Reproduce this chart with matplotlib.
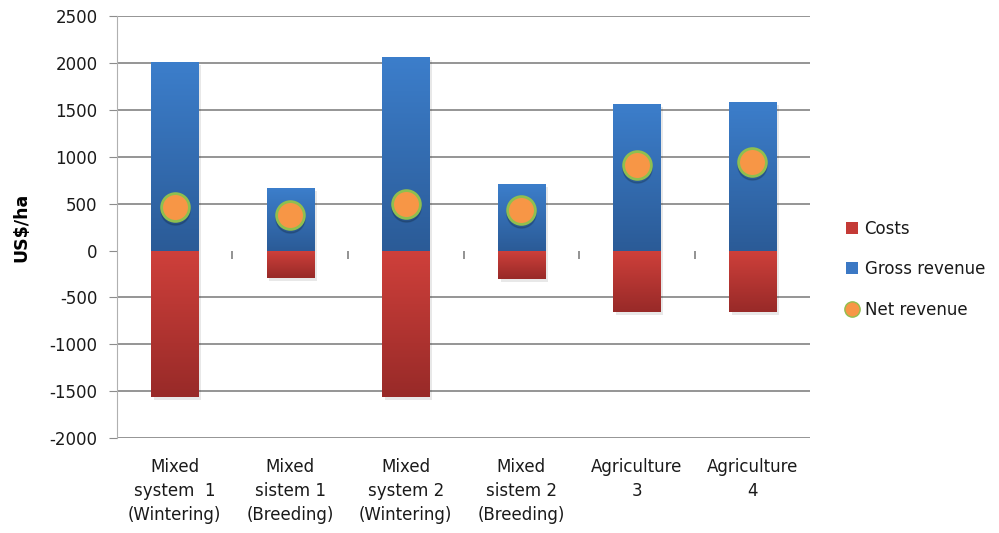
import matplotlib
matplotlib.use("Agg")
import matplotlib.pyplot as plt
import numpy as np
from matplotlib.colors import LinearSegmentedColormap
from matplotlib.patches import Patch
from matplotlib.lines import Line2D
from matplotlib.transforms import ScaledTranslation

plt.rcParams['font.family'] = ['DejaVu Sans']
plt.rcParams['axes.unicode_minus'] = False

# Data (US$/ha)
categories = ["Mixed\nsystem  1\n(Wintering)", "Mixed\nsistem 1\n(Breeding)",
              "Mixed\nsystem 2\n(Wintering)", "Mixed\nsistem 2\n(Breeding)",
              "Agriculture\n3", "Agriculture\n4"]
gross_revenue = [2010, 665, 2060, 708, 1560, 1582]
costs = [-1560, -295, -1560, -305, -655, -655]
net_revenue = [463, 378, 500, 430, 909, 942]

blue_cmap = LinearSegmentedColormap.from_list("blue", ["#2b5b97", "#3c7ecb"])
red_cmap = LinearSegmentedColormap.from_list("red", ["#982a28", "#cf403b"])

fig = plt.figure(figsize=(9.99, 5.33), dpi=100)
ax = fig.add_axes([0.117, 0.178, 0.694, 0.792])

x = np.arange(len(categories))
width = 0.41
grad = np.linspace(0, 1, 256).reshape(-1, 1)
shadow = ax.transData + ScaledTranslation(0, -3 / 100, fig.dpi_scale_trans)


def gradient_bars(values, cmap, label):
    # soft shadow first, then the bar filled with a vertical gradient
    ax.bar(x + 0.025, values, width, color="#000000", alpha=0.09, zorder=2,
           transform=shadow)
    bars = ax.bar(x, values, width, color=cmap(0.5), label=label, zorder=3)
    for b in bars:
        x0, y0 = b.get_x(), b.get_y()
        h = b.get_height()
        lo, hi = min(y0, y0 + h), max(y0, y0 + h)
        im = ax.imshow(grad, cmap=cmap, origin="lower", aspect="auto",
                       extent=[x0, x0 + b.get_width(), lo, hi], zorder=3.1)
        im.set_clip_path(b)
    return bars


gradient_bars(gross_revenue, blue_cmap, "Gross revenue")
gradient_bars(costs, red_cmap, "Costs")

# net revenue markers with a faint shadow
ax.plot(x, net_revenue, "o", ms=21, color="#000000", alpha=0.15, zorder=4,
        transform=shadow)
ax.plot(x, net_revenue, "o", ms=20, markerfacecolor="#f79646",
        markeredgecolor="#8fbf4f", markeredgewidth=2, ls="none", zorder=5)

ax.set_xlim(-0.5, len(categories) - 0.5)
ax.set_ylim(-2000, 2500)
yticks = np.arange(-2000, 2501, 500)
ax.set_yticks(yticks)
ax.yaxis.grid(True, color="#8c8c8c", lw=1.3)
ax.set_axisbelow(True)
# no gridline on the zero level, only the category tick marks
ax.yaxis.get_gridlines()[list(yticks).index(0)].set_visible(False)

for s in ["top", "right", "bottom"]:
    ax.spines[s].set_visible(False)
ax.spines["left"].set_color("#b0b0b0")
ax.tick_params(axis="y", length=6, color="#8c8c8c", pad=8, labelsize=12,
               labelcolor="#1a1a1a")
ax.set_xticks(x)
ax.set_xticklabels(categories, fontsize=12, color="#1a1a1a", linespacing=1.45)
ax.tick_params(axis="x", length=0, pad=14)
ax.set_ylabel("US$/ha", fontsize=12.5, fontweight="bold", labelpad=14)

# tick marks on the zero line between categories
zero_pos = 2000 / 4500
sec = ax.secondary_xaxis(zero_pos)
sec.set_xticks(np.arange(0.5, len(categories) - 1, 1.0))
sec.set_xticklabels([])
sec.tick_params(axis="x", direction="out", length=6, width=1.2, color="#808080")
sec.spines["bottom"].set_visible(False)
sec.spines["top"].set_visible(False)

handles = [Patch(facecolor="#c43a36", label="Costs"),
           Patch(facecolor="#3b78c4", label="Gross revenue"),
           Line2D([], [], marker="o", ls="none", ms=11, markerfacecolor="#f79646",
                  markeredgecolor="#8fbf4f", markeredgewidth=1, label="Net revenue")]
fig.legend(handles=handles, loc="center left", bbox_to_anchor=(0.832, 0.495),
           frameon=False, fontsize=12, labelspacing=1.35, handlelength=0.7,
           handleheight=0.7, handletextpad=0.4, labelcolor="#1a1a1a")

fig.savefig("out.png", dpi=100)
